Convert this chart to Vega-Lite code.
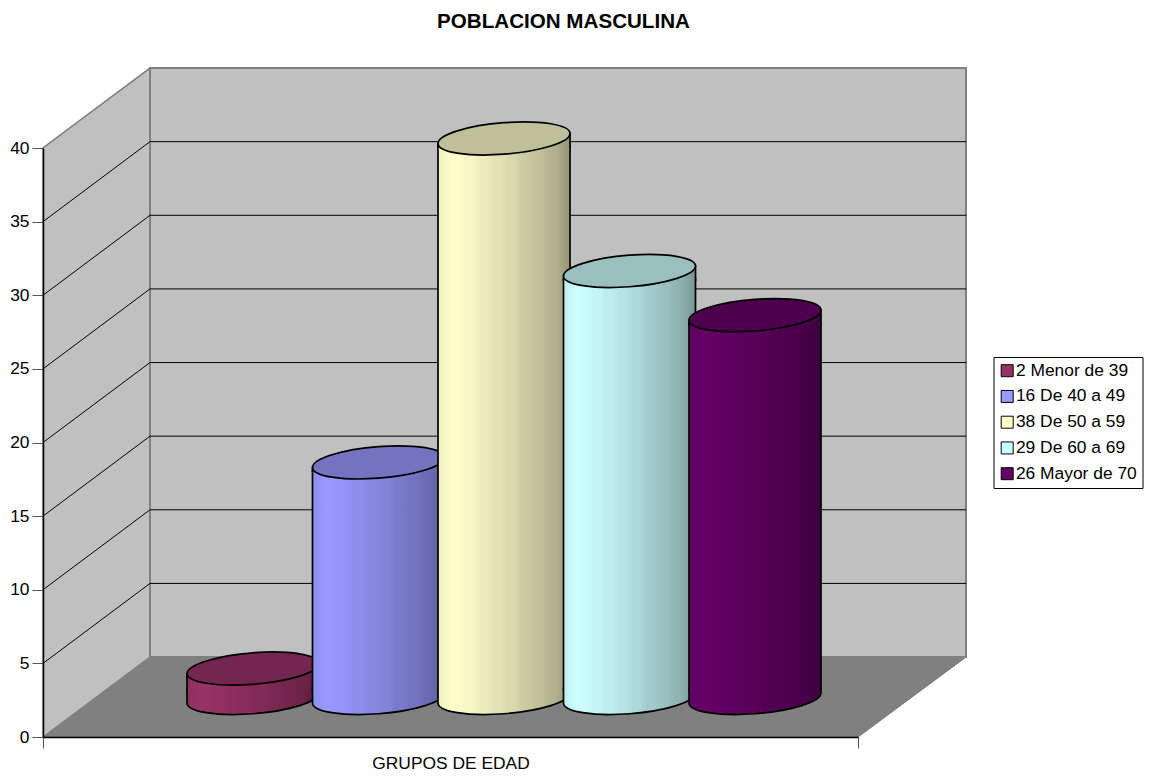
{"$schema":"https://vega.github.io/schema/vega-lite/v6.json","width":815,"height":589,"autosize":"none","padding":{"left":43,"top":148,"right":291,"bottom":39},"background":"#ffffff","config":{"view":{"stroke":null},"font":"Liberation Sans"},"params":[{"name":"g1","value":{"gradient":"linear","stops":[{"offset":0,"color":"#8E2F5F"},{"offset":0.053,"color":"#943163"},{"offset":0.105,"color":"#993366"},{"offset":0.158,"color":"#973265"},{"offset":0.211,"color":"#943163"},{"offset":0.263,"color":"#943163"},{"offset":0.316,"color":"#8E2F5F"},{"offset":0.368,"color":"#8E2F5F"},{"offset":0.421,"color":"#882D5B"},{"offset":0.474,"color":"#882D5B"},{"offset":0.526,"color":"#822B57"},{"offset":0.579,"color":"#822B57"},{"offset":0.632,"color":"#7A2952"},{"offset":0.684,"color":"#792851"},{"offset":0.737,"color":"#74274E"},{"offset":0.789,"color":"#73264D"},{"offset":0.842,"color":"#6D2448"},{"offset":0.895,"color":"#6A2346"},{"offset":0.947,"color":"#622141"},{"offset":1,"color":"#591E3B"}]}},{"name":"g2","value":{"gradient":"linear","stops":[{"offset":0,"color":"#8E8EED"},{"offset":0.053,"color":"#9494F7"},{"offset":0.105,"color":"#9999FF"},{"offset":0.158,"color":"#9797FC"},{"offset":0.211,"color":"#9494F7"},{"offset":0.263,"color":"#9494F7"},{"offset":0.316,"color":"#8E8EED"},{"offset":0.368,"color":"#8E8EED"},{"offset":0.421,"color":"#8888E3"},{"offset":0.474,"color":"#8888E3"},{"offset":0.526,"color":"#8282D9"},{"offset":0.579,"color":"#8282D9"},{"offset":0.632,"color":"#7A7ACC"},{"offset":0.684,"color":"#7979C9"},{"offset":0.737,"color":"#7474C2"},{"offset":0.789,"color":"#7373BF"},{"offset":0.842,"color":"#6D6DB5"},{"offset":0.895,"color":"#6A6AB0"},{"offset":0.947,"color":"#6262A3"},{"offset":1,"color":"#595994"}]}},{"name":"g3","value":{"gradient":"linear","stops":[{"offset":0,"color":"#EDEDBE"},{"offset":0.053,"color":"#F7F7C6"},{"offset":0.105,"color":"#FFFFCC"},{"offset":0.158,"color":"#FCFCCA"},{"offset":0.211,"color":"#F7F7C6"},{"offset":0.263,"color":"#F7F7C6"},{"offset":0.316,"color":"#EDEDBE"},{"offset":0.368,"color":"#EDEDBE"},{"offset":0.421,"color":"#E3E3B6"},{"offset":0.474,"color":"#E3E3B6"},{"offset":0.526,"color":"#D9D9AD"},{"offset":0.579,"color":"#D9D9AD"},{"offset":0.632,"color":"#CCCCA3"},{"offset":0.684,"color":"#C9C9A1"},{"offset":0.737,"color":"#C2C29B"},{"offset":0.789,"color":"#BFBF99"},{"offset":0.842,"color":"#B5B591"},{"offset":0.895,"color":"#B0B08D"},{"offset":0.947,"color":"#A3A383"},{"offset":1,"color":"#949476"}]}},{"name":"g4","value":{"gradient":"linear","stops":[{"offset":0,"color":"#BEEDED"},{"offset":0.053,"color":"#C6F7F7"},{"offset":0.105,"color":"#CCFFFF"},{"offset":0.158,"color":"#CAFCFC"},{"offset":0.211,"color":"#C6F7F7"},{"offset":0.263,"color":"#C6F7F7"},{"offset":0.316,"color":"#BEEDED"},{"offset":0.368,"color":"#BEEDED"},{"offset":0.421,"color":"#B6E3E3"},{"offset":0.474,"color":"#B6E3E3"},{"offset":0.526,"color":"#ADD9D9"},{"offset":0.579,"color":"#ADD9D9"},{"offset":0.632,"color":"#A3CCCC"},{"offset":0.684,"color":"#A1C9C9"},{"offset":0.737,"color":"#9BC2C2"},{"offset":0.789,"color":"#99BFBF"},{"offset":0.842,"color":"#91B5B5"},{"offset":0.895,"color":"#8DB0B0"},{"offset":0.947,"color":"#83A3A3"},{"offset":1,"color":"#769494"}]}},{"name":"g5","value":{"gradient":"linear","stops":[{"offset":0,"color":"#5F005F"},{"offset":0.053,"color":"#630063"},{"offset":0.105,"color":"#660066"},{"offset":0.158,"color":"#650065"},{"offset":0.211,"color":"#630063"},{"offset":0.263,"color":"#630063"},{"offset":0.316,"color":"#5F005F"},{"offset":0.368,"color":"#5F005F"},{"offset":0.421,"color":"#5B005B"},{"offset":0.474,"color":"#5B005B"},{"offset":0.526,"color":"#570057"},{"offset":0.579,"color":"#570057"},{"offset":0.632,"color":"#520052"},{"offset":0.684,"color":"#510051"},{"offset":0.737,"color":"#4E004E"},{"offset":0.789,"color":"#4D004D"},{"offset":0.842,"color":"#480048"},{"offset":0.895,"color":"#460046"},{"offset":0.947,"color":"#410041"},{"offset":1,"color":"#3B003B"}]}}],"title":{"text":"POBLACION MASCULINA","font":"Liberation Sans","fontSize":20.6,"fontWeight":"bold","color":"#000000","anchor":"middle","dx":113,"offset":31},"datasets":{"main":[{"serie":"2 Menor de 39","valor":2},{"serie":"16 De 40 a 49","valor":16},{"serie":"38 De 50 a 59","valor":38},{"serie":"29 De 60 a 69","valor":29},{"serie":"26 Mayor de 70","valor":26}],"suelo":[{"x":0,"y":0,"y2":0},{"x":107,"y":0,"y2":5.43},{"x":815,"y":0,"y2":5.43},{"x":923,"y":5.43,"y2":5.43}],"pared":[{"x":0,"y":0,"y2":40},{"x":107,"y":5.43,"y2":45.43}],"fondo":[{"x":107,"y":5.43,"y2":45.43},{"x":923,"y":5.43,"y2":45.43}],"rejilla":[{"g":5,"x":0,"y":5},{"g":5,"x":107,"y":10.43},{"g":5,"x":923,"y":10.43},{"g":10,"x":0,"y":10},{"g":10,"x":107,"y":15.43},{"g":10,"x":923,"y":15.43},{"g":15,"x":0,"y":15},{"g":15,"x":107,"y":20.43},{"g":15,"x":923,"y":20.43},{"g":20,"x":0,"y":20},{"g":20,"x":107,"y":25.43},{"g":20,"x":923,"y":25.43},{"g":25,"x":0,"y":25},{"g":25,"x":107,"y":30.43},{"g":25,"x":923,"y":30.43},{"g":30,"x":0,"y":30},{"g":30,"x":107,"y":35.43},{"g":30,"x":923,"y":35.43},{"g":35,"x":0,"y":35},{"g":35,"x":107,"y":40.43},{"g":35,"x":923,"y":40.43}]},"resolve":{"scale":{"x":"independent"}},"layer":[{"data":{"name":"main"},"mark":{"type":"point","filled":true,"opacity":1,"size":10},"encoding":{"color":{"field":"serie","type":"nominal","scale":{"domain":["2 Menor de 39","16 De 40 a 49","38 De 50 a 59","29 De 60 a 69","26 Mayor de 70"],"range":["#993366","#9999FF","#FFFFCC","#CCFFFF","#660066"]},"legend":{"title":null,"orient":"none","legendX":950.5,"legendY":209,"symbolType":"square","symbolSize":144,"symbolStrokeColor":"#000000","symbolStrokeWidth":1,"symbolOpacity":1,"labelFont":"Liberation Sans","labelFontSize":17.4,"labelColor":"#000000","labelOffset":0,"rowPadding":6.75,"strokeColor":"#000000","fillColor":"#ffffff","padding":5,"offset":0,"labelLimit":200}}}},{"encoding":{"x":{"field":"x","type":"quantitative","scale":{"domain":[0,815],"nice":false,"zero":false},"axis":{"values":[0,815],"labels":false,"tickSize":11,"tickColor":"#555555","domainColor":"#000000","domainWidth":1.5,"grid":false,"title":"GRUPOS DE EDAD","titleFont":"Liberation Sans","titleFontSize":17.4,"titleFontWeight":"normal","titleColor":"#000000","titlePadding":6,"zindex":1}}},"layer":[{"data":{"name":"suelo"},"mark":{"type":"area","fill":"#808080","stroke":"#707070","strokeWidth":1,"opacity":1},"encoding":{"y":{"field":"y","type":"quantitative","scale":{"domain":[0,40],"nice":false},"axis":{"values":[0,5,10,15,20,25,30,35,40],"title":null,"grid":false,"labelFont":"Liberation Sans","labelFontSize":17.4,"labelColor":"#000000","labelPadding":3,"tickSize":11,"tickColor":"#555555","domainColor":"#000000","domainWidth":1.5,"zindex":1}},"y2":{"field":"y2"}}},{"data":{"name":"pared"},"mark":{"type":"area","fill":"#C0C0C0","stroke":"#808080","strokeWidth":1.5,"opacity":1},"encoding":{"y":{"field":"y","type":"quantitative"},"y2":{"field":"y2"}}},{"data":{"name":"fondo"},"mark":{"type":"area","fill":"#C0C0C0","stroke":"#808080","strokeWidth":2,"opacity":1},"encoding":{"y":{"field":"y","type":"quantitative"},"y2":{"field":"y2"}}},{"data":{"name":"rejilla"},"mark":{"type":"line","stroke":"#000000","strokeWidth":1,"interpolate":"linear"},"encoding":{"y":{"field":"y","type":"quantitative"},"detail":{"field":"g"}}}]},{"data":{"name":"main"},"encoding":{"x":{"field":"serie","type":"nominal","sort":null,"scale":{"type":"band","domain":["2 Menor de 39","16 De 40 a 49","38 De 50 a 59","29 De 60 a 69","26 Mayor de 70"],"range":[147.25,774.75],"paddingInner":0,"paddingOuter":0},"axis":null},"y":{"field":"valor","type":"quantitative"}},"layer":[
{"transform":[{"filter":"datum.valor==2"}],"layer":[
{"mark":{"type":"bar","fill":{"expr":"g1"},"width":132,"yOffset":-31,"y2Offset":-47,"stroke":"#000000","strokeWidth":1.7},"encoding":{"y2":{"datum":0}}},
{"mark":{"type":"point","fill":{"expr":"g1"},"filled":true,"opacity":1,"size":17424,"yOffset":-39,"shape":"M-1,-0.152 L-1,0.076 A1.003,0.238,-4.6,0,0,1,-0.076 L1,-0.152","stroke":"#000000","strokeWidth":1.7},"encoding":{"y":{"datum":0,"type":"quantitative"}}},
{"mark":{"type":"point","fill":{"expr":"g1"},"filled":true,"opacity":1,"size":17424,"yOffset":-39,"shape":"M-1,0.152 L-1,0.076 L1,-0.076 L1,0.152","stroke":"#000000","strokeWidth":1.7}},
{"mark":{"type":"point","filled":true,"opacity":1,"size":17424,"yOffset":-39,"shape":"M-1,0.076 A1.003,0.238,-4.6,0,1,1,-0.076 A1.003,0.238,-4.6,0,1,-1,0.076 Z","stroke":"#000000","strokeWidth":1.7,"fill":"#732650"}}]},
{"transform":[{"filter":"datum.valor==16"}],"layer":[
{"mark":{"type":"bar","fill":{"expr":"g2"},"width":132,"yOffset":-31,"y2Offset":-47,"stroke":"#000000","strokeWidth":1.7},"encoding":{"y2":{"datum":0}}},
{"mark":{"type":"point","fill":{"expr":"g2"},"filled":true,"opacity":1,"size":17424,"yOffset":-39,"shape":"M-1,-0.152 L-1,0.076 A1.003,0.238,-4.6,0,0,1,-0.076 L1,-0.152","stroke":"#000000","strokeWidth":1.7},"encoding":{"y":{"datum":0,"type":"quantitative"}}},
{"mark":{"type":"point","fill":{"expr":"g2"},"filled":true,"opacity":1,"size":17424,"yOffset":-39,"shape":"M-1,0.152 L-1,0.076 L1,-0.076 L1,0.152","stroke":"#000000","strokeWidth":1.7}},
{"mark":{"type":"point","filled":true,"opacity":1,"size":17424,"yOffset":-39,"shape":"M-1,0.076 A1.003,0.238,-4.6,0,1,1,-0.076 A1.003,0.238,-4.6,0,1,-1,0.076 Z","stroke":"#000000","strokeWidth":1.7,"fill":"#7373BF"}}]},
{"transform":[{"filter":"datum.valor==38"}],"layer":[
{"mark":{"type":"bar","fill":{"expr":"g3"},"width":132,"yOffset":-31,"y2Offset":-47,"stroke":"#000000","strokeWidth":1.7},"encoding":{"y2":{"datum":0}}},
{"mark":{"type":"point","fill":{"expr":"g3"},"filled":true,"opacity":1,"size":17424,"yOffset":-39,"shape":"M-1,-0.152 L-1,0.076 A1.003,0.238,-4.6,0,0,1,-0.076 L1,-0.152","stroke":"#000000","strokeWidth":1.7},"encoding":{"y":{"datum":0,"type":"quantitative"}}},
{"mark":{"type":"point","fill":{"expr":"g3"},"filled":true,"opacity":1,"size":17424,"yOffset":-39,"shape":"M-1,0.152 L-1,0.076 L1,-0.076 L1,0.152","stroke":"#000000","strokeWidth":1.7}},
{"mark":{"type":"point","filled":true,"opacity":1,"size":17424,"yOffset":-39,"shape":"M-1,0.076 A1.003,0.238,-4.6,0,1,1,-0.076 A1.003,0.238,-4.6,0,1,-1,0.076 Z","stroke":"#000000","strokeWidth":1.7,"fill":"#BFBF99"}}]},
{"transform":[{"filter":"datum.valor==29"}],"layer":[
{"mark":{"type":"bar","fill":{"expr":"g4"},"width":132,"yOffset":-31,"y2Offset":-47,"stroke":"#000000","strokeWidth":1.7},"encoding":{"y2":{"datum":0}}},
{"mark":{"type":"point","fill":{"expr":"g4"},"filled":true,"opacity":1,"size":17424,"yOffset":-39,"shape":"M-1,-0.152 L-1,0.076 A1.003,0.238,-4.6,0,0,1,-0.076 L1,-0.152","stroke":"#000000","strokeWidth":1.7},"encoding":{"y":{"datum":0,"type":"quantitative"}}},
{"mark":{"type":"point","fill":{"expr":"g4"},"filled":true,"opacity":1,"size":17424,"yOffset":-39,"shape":"M-1,0.152 L-1,0.076 L1,-0.076 L1,0.152","stroke":"#000000","strokeWidth":1.7}},
{"mark":{"type":"point","filled":true,"opacity":1,"size":17424,"yOffset":-39,"shape":"M-1,0.076 A1.003,0.238,-4.6,0,1,1,-0.076 A1.003,0.238,-4.6,0,1,-1,0.076 Z","stroke":"#000000","strokeWidth":1.7,"fill":"#99BFBF"}}]},
{"transform":[{"filter":"datum.valor==26"}],"layer":[
{"mark":{"type":"bar","fill":{"expr":"g5"},"width":132,"yOffset":-31,"y2Offset":-47,"stroke":"#000000","strokeWidth":1.7},"encoding":{"y2":{"datum":0}}},
{"mark":{"type":"point","fill":{"expr":"g5"},"filled":true,"opacity":1,"size":17424,"yOffset":-39,"shape":"M-1,-0.152 L-1,0.076 A1.003,0.238,-4.6,0,0,1,-0.076 L1,-0.152","stroke":"#000000","strokeWidth":1.7},"encoding":{"y":{"datum":0,"type":"quantitative"}}},
{"mark":{"type":"point","fill":{"expr":"g5"},"filled":true,"opacity":1,"size":17424,"yOffset":-39,"shape":"M-1,0.152 L-1,0.076 L1,-0.076 L1,0.152","stroke":"#000000","strokeWidth":1.7}},
{"mark":{"type":"point","filled":true,"opacity":1,"size":17424,"yOffset":-39,"shape":"M-1,0.076 A1.003,0.238,-4.6,0,1,1,-0.076 A1.003,0.238,-4.6,0,1,-1,0.076 Z","stroke":"#000000","strokeWidth":1.7,"fill":"#4D004D"}}]}
]}]}
